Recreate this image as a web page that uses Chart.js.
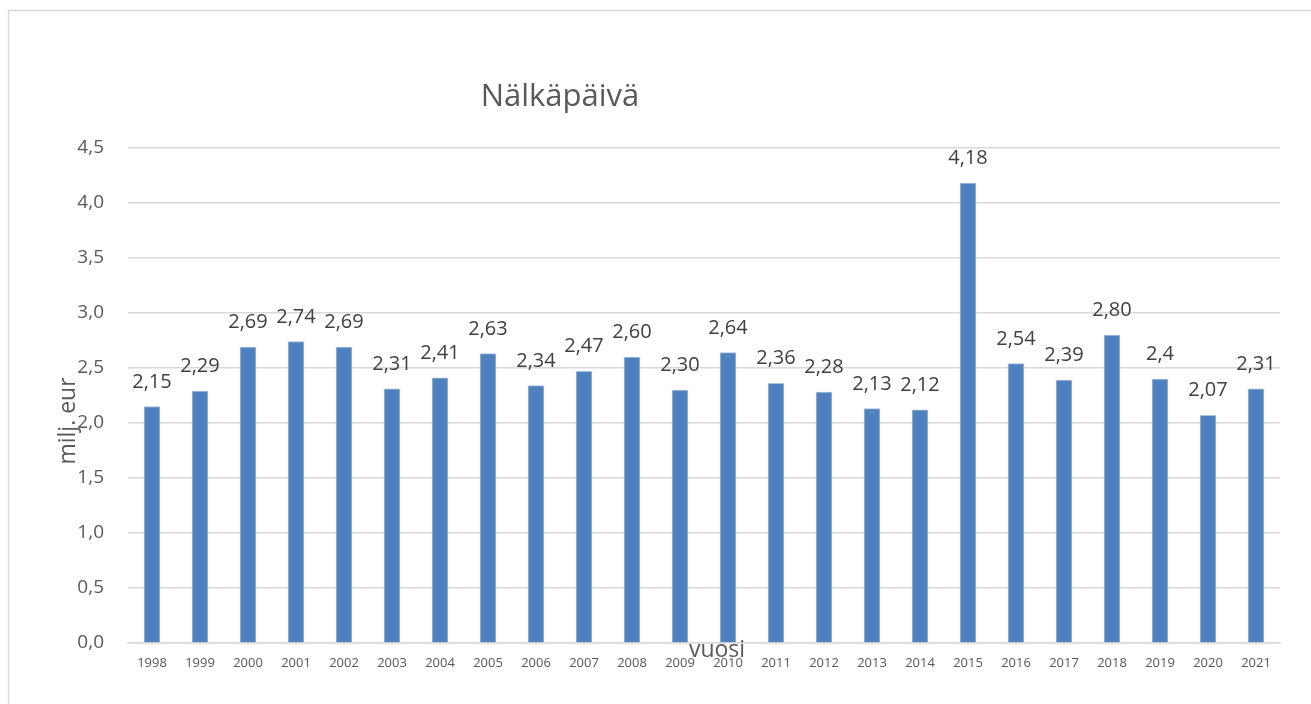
<!DOCTYPE html>
<html>
<head>
<meta charset="utf-8">
<script src="https://cdn.jsdelivr.net/npm/chart.js@4/dist/chart.umd.min.js"></script>
<style>
  html, body { margin: 0; padding: 0; background: #fff; }
  #wrap { width: 1311px; height: 704px; }
</style>
</head>
<body>
<div id="wrap"><canvas id="chart" width="1311" height="704"></canvas></div>
<script>
const years = ["1998", "1999", "2000", "2001", "2002", "2003", "2004", "2005", "2006", "2007", "2008", "2009",
  "2010", "2011", "2012", "2013", "2014", "2015", "2016", "2017", "2018", "2019", "2020", "2021"]
const amounts = [2.15, 2.29, 2.69, 2.74, 2.69, 2.31, 2.41, 2.63, 2.34, 2.47, 2.60, 2.30,
  2.64, 2.36, 2.28, 2.13, 2.12, 4.18, 2.54, 2.39, 2.80, 2.40, 2.07, 2.31]
const amountLabels = ["2,15", "2,29", "2,69", "2,74", "2,69", "2,31", "2,41", "2,63", "2,34", "2,47", "2,60", "2,30",
  "2,64", "2,36", "2,28", "2,13", "2,12", "4,18", "2,54", "2,39", "2,80", "2,4", "2,07", "2,31"]

const chartTitle = "Nälkäpäivä"
const yTitle = "milj. eur"
const xTitle = "vuosi"

const fontFamily = "'Open Sans', 'Noto Sans', sans-serif"
const textGrey = "#595959"

// tausta, kehys, otsikot ja arvot
const decorPlugin = {
  id: "decor",
  beforeDraw(chart) {
    const ctx = chart.ctx
    ctx.save()
    ctx.fillStyle = "#ffffff"
    ctx.fillRect(0, 0, chart.width, chart.height)
    ctx.strokeStyle = "#d9d9d9"
    ctx.lineWidth = 1.5
    ctx.strokeRect(8.5, 10.5, chart.width + 20, chart.height + 20)
    ctx.restore()
  },
  afterDatasetsDraw(chart) {
    const ctx = chart.ctx
    ctx.save()
    ctx.fillStyle = "#404040"
    ctx.font = "20px " + fontFamily
    ctx.textAlign = "center"
    ctx.textBaseline = "alphabetic"
    chart.getDatasetMeta(0).data.forEach((bar, i) => {
      ctx.fillText(amountLabels[i], bar.x, bar.y - 19)
    })
    ctx.restore()
  },
  afterDraw(chart) {
    const ctx = chart.ctx
    ctx.save()
    ctx.fillStyle = textGrey
    ctx.textAlign = "center"
    ctx.textBaseline = "middle"
    ctx.font = "31px " + fontFamily
    ctx.fillText(chartTitle, 560, 97)

    ctx.font = "23px " + fontFamily
    ctx.fillText(xTitle, 717, 650)

    ctx.translate(68, 421)
    ctx.rotate(-Math.PI / 2)
    ctx.fillText(yTitle, 0, 0)
    ctx.restore()
  }
}

new Chart(document.getElementById("chart"), {
  type: "bar",
  data: {
    labels: years,
    datasets: [{
      data: amounts,
      backgroundColor: "#4f81bd",
      borderColor: "#a9c2e2",
      borderWidth: 1,
      barThickness: 16
    }]
  },
  options: {
    responsive: false,
    animation: false,
    devicePixelRatio: 1,
    layout: { padding: { top: 148, right: 31, left: 0, bottom: 0 } },
    plugins: {
      legend: { display: false },
      title: { display: false },
      tooltip: { enabled: false }
    },
    scales: {
      x: {
        grid: { display: false, drawTicks: false },
        border: { display: true, color: "#d9d9d9", width: 1.5 },
        ticks: { color: textGrey, font: { family: fontFamily, size: 13 }, padding: 12, maxRotation: 0, autoSkip: false },
        afterFit(scale) { scale.height = 61 }
      },
      y: {
        min: 0,
        max: 4.5,
        grid: { color: "#d9d9d9", lineWidth: 1.5, drawTicks: false },
        border: { display: false },
        ticks: {
          stepSize: 0.5,
          color: textGrey,
          font: { family: fontFamily, size: 19 },
          padding: 24,
          callback: (v) => v.toFixed(1).replace(".", ",")
        },
        afterFit(scale) { scale.width = 128 }
      }
    }
  },
  plugins: [decorPlugin]
})
</script>
</body>
</html>
